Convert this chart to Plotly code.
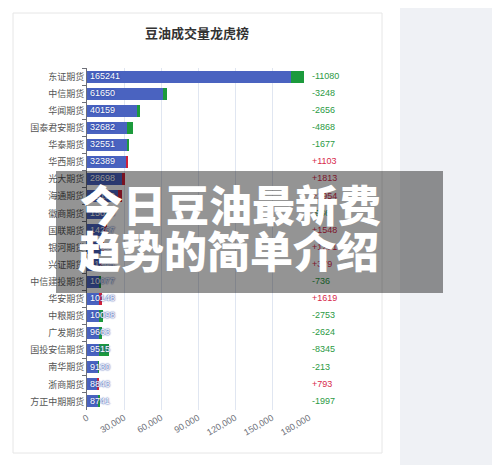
import plotly.graph_objects as go

# ---------------- data ----------------
brokers = ["东证期货", "中信期货", "华闻期货", "国泰君安期货", "华泰期货", "华西期货",
           "光大期货", "海通期货", "徽商期货", "国联期货", "银河期货", "兴证期货",
           "中信建投期货", "华安期货", "中粮期货", "广发期货", "国投安信期货",
           "南华期货", "浙商期货", "方正中期期货"]
volumes = [165241, 61650, 40159, 32682, 32551, 32389,
           28698, 25130, 15098, 14267, 12364, 11245,
           10077, 10148, 10098, 9663, 9515,
           9130, 8843, 8741]
changes = [-11080, -3248, -2656, -4868, -1677, 1103,
           1813, 2954, -936, 1548, 1231, 379,
           -736, 1619, -2753, -2624, -8345,
           -213, 793, -1997]
x_ticks = [0, 30000, 60000, 90000, 120000, 150000, 180000]
title_text = "豆油成交量龙虎榜"
banner_lines = ["今日豆油最新费", "趋势的简单介绍"]

# ---------------- style ----------------
BLUE = "#4a63c0"
GREEN_BAR = "#1c9a3c"
RED_BAR = "#d0213a"
GREEN_TXT = "#2c9a44"
RED_TXT = "#d72a4a"
FONT = "Liberation Sans, Noto Sans CJK SC, sans-serif"

OFF = 8                      # page body margin offset
W, H = 500 - OFF, 465 - OFF
# plot area in page px
L, R, T, B = 87, 380, 68, 410
pw, ph = R - L, B - T


def px_x(px):
    return (px - L) / pw


def px_y(py):
    return (B - py) / ph


delta_abs = [abs(c) for c in changes]
delta_col = [GREEN_BAR if c < 0 else RED_BAR for c in changes]
delta_txt = [("+%d" % c) if c > 0 else ("%d" % c) for c in changes]
delta_txt_col = [GREEN_TXT if c < 0 else RED_TXT for c in changes]

fig = go.Figure()
fig.add_trace(go.Bar(
    y=brokers, x=volumes, orientation="h", marker=dict(color=BLUE, line=dict(width=0)),
    hoverinfo="skip",
))
fig.add_trace(go.Bar(
    y=brokers, x=delta_abs, orientation="h", marker=dict(color=delta_col, line=dict(width=0)),
    hoverinfo="skip",
))
# value labels drawn on top of both bar segments
fig.add_trace(go.Scatter(
    y=brokers, x=[0] * len(brokers), mode="text", text=[str(v) for v in volumes],
    textposition="middle right",
    textfont=dict(color="white", size=9, family=FONT,
                  shadow="0px 0px 1.5px #2f4aa8, 0px 0px 1.5px #2f4aa8"),
    xaxis="x3", yaxis="y",
    hoverinfo="skip", showlegend=False, cliponaxis=False,
))
fig.add_trace(go.Scatter(
    y=brokers, x=[0] * len(brokers), mode="text", text=delta_txt,
    textposition="middle right", textfont=dict(color=delta_txt_col, size=9, family=FONT),
    xaxis="x2", yaxis="y", hoverinfo="skip", showlegend=False, cliponaxis=False,
))

fig.update_layout(
    template="none",
    width=W, height=H,
    margin=dict(l=L - OFF, r=W - (R - OFF), t=T - OFF, b=H - (B - OFF), pad=0),
    paper_bgcolor="white", plot_bgcolor="rgba(0,0,0,0)",
    barmode="stack", bargap=0.3, showlegend=False,
    font=dict(family=FONT, size=9, color="#666"),
    title=dict(text="<b>%s</b>" % title_text, x=(197 - OFF) / W, y=1 - (33 - OFF) / H,
               xanchor="center", yanchor="middle",
               font=dict(size=13, color="#333", family=FONT)),
    xaxis=dict(domain=[0, px_x(309)], range=[0, 180000], tickvals=x_ticks,
               tickformat=",d", tickangle=-30, showgrid=True, gridcolor="#e0e6f1",
               gridwidth=1, zeroline=False, showline=False, ticks="", automargin=False,
               tickfont=dict(size=9, color="#6e7079")),
    xaxis2=dict(domain=[px_x(312), 1], range=[0, 1], visible=False, anchor="y",
                automargin=False),
    xaxis3=dict(domain=[px_x(90), px_x(309)], range=[0, 1], visible=False, anchor="y",
                automargin=False),
    yaxis=dict(categoryorder="array", categoryarray=brokers,
               range=[len(brokers) - 0.5, -0.5], autorange=False,
               showline=True, linecolor="#6e7079", linewidth=1, ticks="outside",
               ticklen=4, tickcolor="#6e7079", tickson="boundaries", automargin=False,
               showgrid=False, zeroline=False,
               tickfont=dict(size=9, color="#555")),
)

shapes = [
    # right page panel
    dict(type="rect", xref="paper", yref="paper", x0=px_x(400), x1=px_x(510),
         y0=px_y(470), y1=px_y(0), fillcolor="#eff1f5", line=dict(width=0), layer="below"),
    # card
    dict(type="rect", xref="paper", yref="paper", x0=px_x(13), x1=px_x(382),
         y0=px_y(453), y1=px_y(13), fillcolor="white",
         line=dict(color="#e6e6e6", width=1), layer="below"),
    # banner
    dict(type="rect", xref="paper", yref="paper", x0=px_x(56), x1=px_x(443),
         y0=px_y(293), y1=px_y(171), fillcolor="rgba(0,0,0,0.42)",
         line=dict(width=0), layer="above"),
]
fig.update_layout(shapes=shapes)

fig.add_annotation(text=banner_lines[0], xref="paper", yref="paper",
                   x=px_x(230), y=px_y(203), showarrow=False, xanchor="center", yanchor="middle",
                   font=dict(size=43, color="white", family="Noto Sans CJK SC", weight=900))
fig.add_annotation(text=banner_lines[1], xref="paper", yref="paper",
                   x=px_x(228), y=px_y(249), showarrow=False, xanchor="center", yanchor="middle",
                   font=dict(size=43, color="white", family="Noto Sans CJK SC", weight=900))

fig.write_html("out.html")
